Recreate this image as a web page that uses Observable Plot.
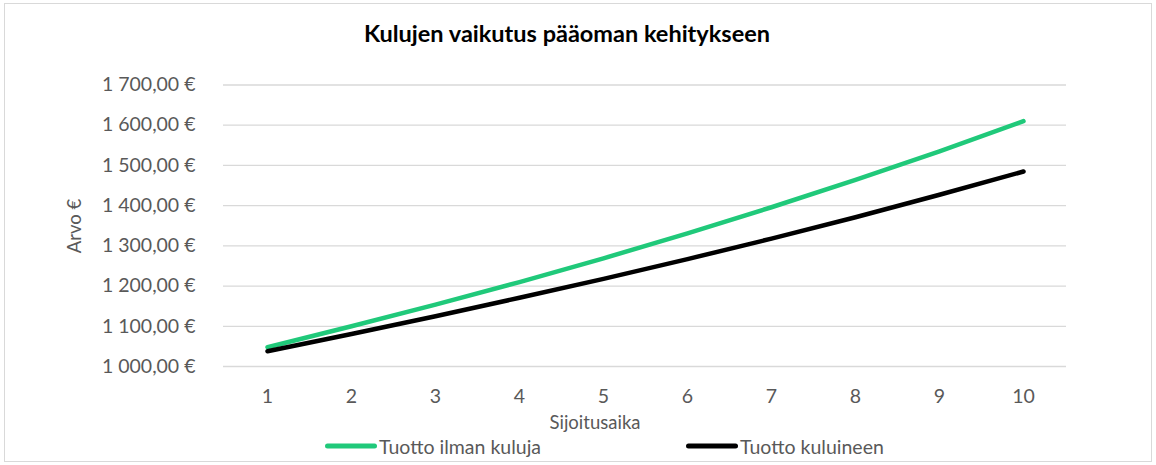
<!DOCTYPE html>
<html><head><meta charset="utf-8">
<script src="https://cdn.jsdelivr.net/npm/d3@7"></script>
<script src="https://cdn.jsdelivr.net/npm/@observablehq/plot@0.6"></script>
<style>
body{margin:0;background:#fff;font-family:Lato,"Open Sans",sans-serif;width:1156px;height:465px;position:relative;overflow:hidden;}
#frame{position:absolute;left:4px;top:3px;width:1146px;height:457px;border:1px solid #d9d9d9;box-sizing:content-box;}
#title{position:absolute;left:567px;top:33px;transform:translate(-50%,-50%);font-weight:bold;font-size:23.5px;color:#000;white-space:nowrap;}
#chart{position:absolute;left:0;top:0;}
.lbl{position:absolute;transform:translate(-50%,-50%);font-size:18.5px;color:#595959;white-space:nowrap;}
#ylab{transform:translate(-50%,-50%) rotate(-90deg);}
.leg{position:absolute;top:446px;transform:translateY(-50%);font-size:19.5px;color:#595959;white-space:nowrap;display:flex;align-items:center;}
.sw{display:inline-block;width:52px;height:5px;border-radius:3px;margin-right:2px;}
</style></head><body>
<div id="frame"></div>
<div id="title">Kulujen vaikutus pääoman kehitykseen</div>
<div id="chart"></div>
<div class="lbl" id="ylab" style="left:74px;top:226px;">Arvo €</div>
<div class="lbl" style="left:595px;top:422px;">Sijoitusaika</div>
<div class="leg" style="left:325px;"><span class="sw" style="background:#20c97a"></span>Tuotto ilman kuluja</div>
<div class="leg" style="left:686px;"><span class="sw" style="background:#000"></span>Tuotto kuluineen</div>
<script>
const years = [1, 2, 3, 4, 5, 6, 7, 8, 9, 10];
const withoutCosts = [1048, 1100, 1154, 1210, 1269, 1331, 1396, 1464, 1535, 1610];
const withCosts = [1038, 1081, 1125, 1171, 1218, 1267, 1318, 1371, 1427, 1485];
const yTicks = [1000, 1100, 1200, 1300, 1400, 1500, 1600, 1700];
const seriesNames = ["Tuotto ilman kuluja", "Tuotto kuluineen"];
const seriesColors = ["#20c97a", "#000000"];

const fi = d3.formatLocale({decimal: ",", thousands: "\u00a0", grouping: [3], currency: ["", "\u00a0€"]});
const fmt = fi.format("$,.2f");

const rows = [];
years.forEach((t, i) => {
  rows.push({t, v: withoutCosts[i], s: seriesNames[0]});
});
years.forEach((t, i) => {
  rows.push({t, v: withCosts[i], s: seriesNames[1]});
});

const chart = Plot.plot({
  width: 1156,
  height: 440,
  marginLeft: 223,
  marginRight: 90,
  marginTop: 84.5,
  marginBottom: 74,
  style: {fontFamily: "Lato, 'Open Sans', sans-serif", fontSize: "19.5px", color: "#595959", background: "transparent"},
  x: {type: "point", domain: years, padding: 0.5},
  y: {domain: [1000, 1700]},
  color: {domain: seriesNames, range: seriesColors},
  marks: [
    Plot.ruleY(yTicks, {stroke: "#d9d9d9", strokeWidth: 1.3}),
    Plot.axisY({ticks: yTicks, tickFormat: fmt, tickSize: 0, tickPadding: 28, label: null, fill: "#595959"}),
    Plot.axisX({tickSize: 0, tickPadding: 23, label: null, fill: "#595959"}),
    Plot.line(rows, {x: "t", y: "v", z: "s", stroke: "s", strokeWidth: 4.5, strokeLinecap: "round", strokeLinejoin: "round"})
  ]
});
document.getElementById("chart").appendChild(chart);
</script>
</body></html>
